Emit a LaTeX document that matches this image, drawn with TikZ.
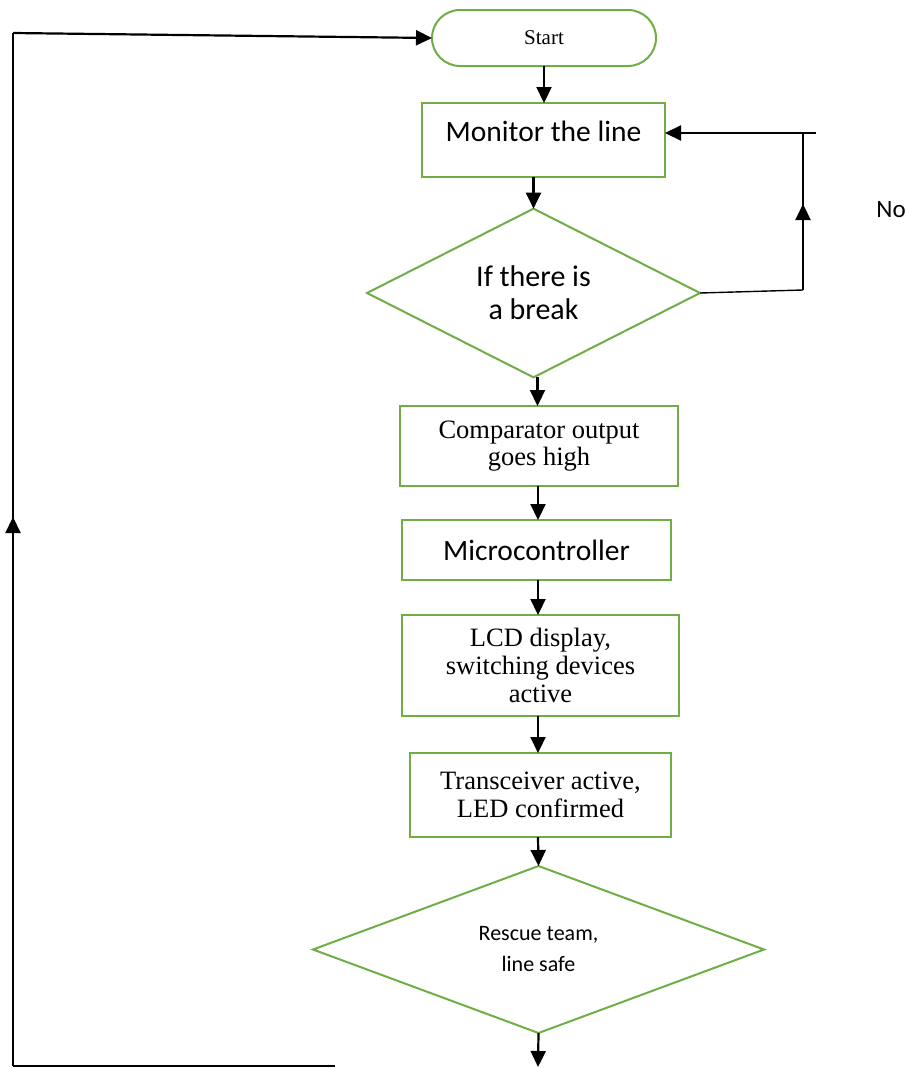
\documentclass[tikz,border=0pt]{standalone}
\usepackage{fontspec}
\setmainfont{Liberation Serif}
\newfontfamily\calfont{Carlito}
\usetikzlibrary{shapes.geometric,shapes.misc,arrows.meta}
\definecolor{fgreen}{HTML}{70AD47}
\tikzset{
  box/.style={draw=fgreen,line width=2pt,rectangle,inner sep=0pt,outer sep=0pt,align=center},
  dia/.style={draw=fgreen,line width=2pt,diamond,inner sep=0pt,outer sep=0pt,align=center},
  term/.style={draw=fgreen,line width=2pt,rounded rectangle,inner sep=0pt,outer sep=0pt},
  arr/.style={line width=2.2pt,-{Triangle[length=16pt,width=15pt]}},
  thinln/.style={line width=1.4pt},
  tip/.style={line width=2.2pt,-{Triangle[length=16pt,width=15pt]}},
}
\begin{document}
\begin{tikzpicture}[x=1pt,y=-1pt]
\useasboundingbox (0,0) rectangle (907,1068);
\node[term,minimum width=224pt,minimum height=56pt,font=\fontsize{21}{24}\selectfont] (start) at (544,38) {Start};
\node[box,minimum width=243pt,minimum height=74pt] (mon) at (543.5,140) {};
\node[font=\calfont\fontsize{29.5}{33}\selectfont] (montext) at (543.5,131) {Monitor the line};
\node[dia,minimum width=333pt,minimum height=161pt,font=\calfont\fontsize{30}{33}\selectfont] (d1) at (533.5,293) {If there is\\a break};
\node[box,minimum width=278pt,minimum height=80pt,font=\fontsize{26.5}{27}\selectfont] (cmp) at (539,446) {Comparator output\\goes high};
\node[box,minimum width=269pt,minimum height=60pt,font=\calfont\fontsize{29.5}{33}\selectfont] (mcu) at (536.5,550) {Microcontroller};
\node[box,minimum width=277pt,minimum height=101pt,font=\fontsize{26.5}{28}\selectfont] (lcd) at (540.5,665.5) {LCD display,\\switching devices\\active};
\node[box,minimum width=261pt,minimum height=84pt,font=\fontsize{26.5}{28}\selectfont] (trx) at (540.5,795) {Transceiver active,\\LED confirmed};
\node[dia,minimum width=451pt,minimum height=167pt,font=\calfont\fontsize{22}{31}\selectfont] (d2) at (538.5,949.5) {Rescue team,\\line safe};
\node[font=\calfont\fontsize{25}{28}\selectfont] (no) at (891,210) {No};
% main flow arrows
\draw[arr] (start.south) -- (mon.north -| start.south);
\draw[arr] (mon.south -| d1.north) -- (d1.north);
\draw[arr] (d1.south) ++(4,0) coordinate (d1s) -- (cmp.north -| d1s);
\draw[arr] (cmp.south -| 538,0) -- (mcu.north -| 538,0);
\draw[arr] (mcu.south -| 538,0) -- (lcd.north -| 538,0);
\draw[arr] (lcd.south -| 538,0) -- (trx.north -| 538,0);
\draw[arr] (trx.south -| 538,0) -- (d2.north);
\coordinate (endp) at (538,1067);
\draw[arr] (d2.south) -- (endp);
% No loop
\coordinate (nr) at (803,290);
\coordinate (nt) at (803,133);
\coordinate (ntr) at (816,133);
\draw[thinln] (d1.east) -- (nr);
\draw[tip] (nr) -- (803,204);
\draw[thinln] (803,207) -- (nt);
\draw[thinln] (ntr) -- (nt);
\draw[arr] (nt) -- (mon.east |- nt);
% return loop
\coordinate (b1) at (335,1066);
\coordinate (b0) at (13,1066);
\coordinate (tl) at (13,33);
\draw[thinln] (b1) -- (b0);
\draw[tip] (b0) -- (13,517);
\draw[thinln] (13,520) -- (tl);
\draw[arr] (tl) -- (start.west);
\end{tikzpicture}
\end{document}
